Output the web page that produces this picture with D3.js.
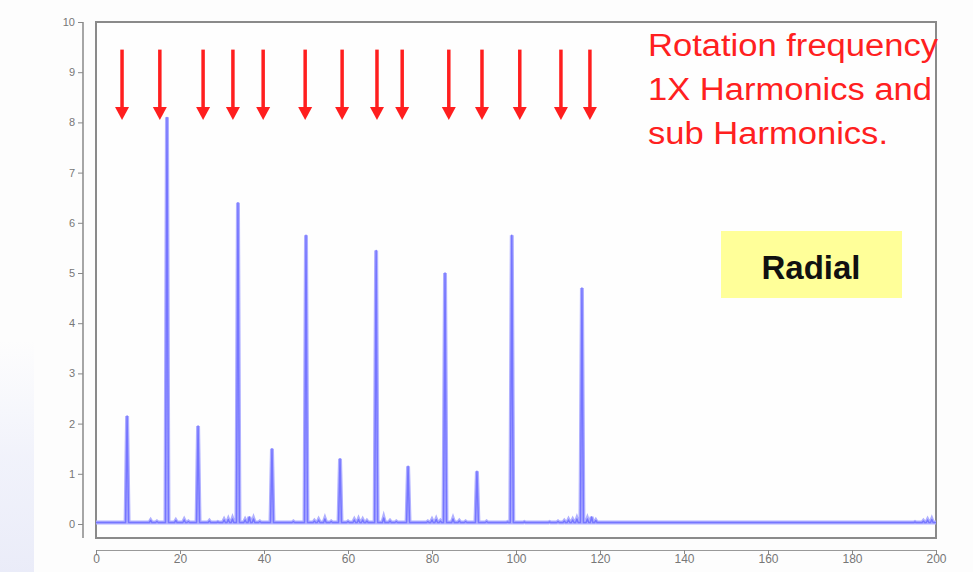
<!DOCTYPE html>
<html lang="en">
<head>
<meta charset="utf-8" />
<title>Radial spectrum</title>
<script src="https://cdn.jsdelivr.net/npm/d3@7/dist/d3.min.js"></script>
<style>
  body { margin: 0; background: #fdfdfd; }
  svg { display: block; }
</style>
</head>
<body>
<svg width="973" height="572"></svg>
<script>
// spectrum data (frequency, amplitude)
var peakFreq = [7.4, 16.9, 24.3, 33.8, 41.9, 50, 58.1, 66.7, 74.3, 83.1, 90.7, 99, 115.7];
var peakAmp = [2.15, 8.1, 1.95, 6.4, 1.5, 5.75, 1.3, 5.45, 1.15, 5.0, 1.05, 5.75, 4.7];

var noiseFreq = [13, 14.5, 19, 21, 22, 27, 29, 30.5, 31.5, 32.5, 35.5, 36.5, 37.5, 39, 47, 52, 53, 54.5, 56,
                 60, 61.5, 62.5, 63.5, 64.5, 68.5, 70, 71.5, 79, 80, 81, 82, 85, 86.5, 88, 93, 98, 102,
                 105, 108, 110, 111.5, 112.5, 113.5, 114.5, 117, 118, 119, 195, 197, 198, 199];
var noiseAmp = [0.07, 0.05, 0.07, 0.08, 0.05, 0.06, 0.04, 0.08, 0.09, 0.1, 0.08, 0.14, 0.1, 0.05, 0.05, 0.06, 0.08, 0.1, 0.05,
                0.05, 0.08, 0.09, 0.08, 0.06, 0.12, 0.06, 0.05, 0.05, 0.08, 0.09, 0.06, 0.1, 0.06, 0.05, 0.05, 0.04, 0.04,
                0.03, 0.04, 0.05, 0.06, 0.08, 0.08, 0.1, 0.1, 0.14, 0.07, 0.04, 0.06, 0.08, 0.09];

// red arrows marking rotation frequency harmonics
var arrowFreq = [6.2, 15.2, 25.5, 32.6, 39.8, 49.8, 58.6, 66.9, 72.9, 84.0, 91.9, 100.9, 110.7, 117.6];
var arrowTop = 9.45, arrowTip = 8.05;

var xTicks = [0, 20, 40, 60, 80, 100, 120, 140, 160, 180, 200];
var yTicks = [0, 1, 2, 3, 4, 5, 6, 7, 8, 9, 10];

var noteLines = ["Rotation frequency", "1X Harmonics and", "sub Harmonics."];
var noteWidths = [290, 284, 240];
var boxLabel = "Radial";

var svg = d3.select("svg");

var x = d3.scaleLinear().domain([0, 200]).range([96, 936]);
var y = d3.scaleLinear().domain([0, 10]).range([524, 22]);

// faint shading on the far left
var defs = svg.append("defs");
var grad = defs.append("linearGradient").attr("id", "fade").attr("x1", 0).attr("y1", 0).attr("x2", 0).attr("y2", 1);
grad.append("stop").attr("offset", 0).attr("stop-color", "#eef0fb").attr("stop-opacity", 0);
grad.append("stop").attr("offset", 0.5).attr("stop-color", "#eceefa").attr("stop-opacity", 0.7);
grad.append("stop").attr("offset", 1).attr("stop-color", "#e8eaf8").attr("stop-opacity", 0.9);
svg.append("rect").attr("x", 0).attr("y", 340).attr("width", 34).attr("height", 232).attr("fill", "url(#fade)");

// plot frame
svg.append("rect")
    .attr("x", x(0)).attr("y", y(10))
    .attr("width", x(200) - x(0)).attr("height", 538 - y(10))
    .attr("fill", "#fefefe")
    .attr("stroke", "#8a8a8a").attr("stroke-width", 2);

// y axis (detached, to the left)
var yAxis = svg.append("g")
    .attr("transform", "translate(83,0)")
    .call(d3.axisLeft(y).tickValues(yTicks).tickSize(5).tickSizeOuter(0));
yAxis.select(".domain").remove();
yAxis.append("line")
    .attr("x1", 0).attr("x2", 0)
    .attr("y1", y(10)).attr("y2", y(-0.28))
    .attr("stroke", "#888").attr("stroke-width", 1.5);
yAxis.selectAll(".tick line").attr("stroke", "#888");
yAxis.selectAll(".tick text")
    .attr("fill", "#777").attr("font-size", 11)
    .attr("font-family", "Liberation Sans, Arial, sans-serif");

// x axis (detached, below)
var xAxis = svg.append("g")
    .attr("transform", "translate(0,550)")
    .call(d3.axisBottom(x).tickValues(xTicks).tickSize(4).tickSizeOuter(0));
xAxis.select(".domain").attr("stroke", "#999").attr("stroke-width", 1.2);
xAxis.selectAll(".tick line").attr("stroke", "#888");
xAxis.selectAll(".tick text")
    .attr("fill", "#777").attr("font-size", 12).attr("dy", "0.5em")
    .attr("font-family", "Liberation Sans, Arial, sans-serif");

// build spectrum trace
var pts = [[0, 0.03], [200, 0.03]];
peakFreq.forEach(function (f, i) {
    pts.push([f - 0.35, 0.03], [f, peakAmp[i]], [f + 0.35, 0.03]);
});
noiseFreq.forEach(function (f, i) {
    pts.push([f - 0.3, 0.03], [f, noiseAmp[i]], [f + 0.3, 0.03]);
});
pts.sort(function (a, b) { return a[0] - b[0]; });

var line = d3.line()
    .x(function (d) { return x(d[0]); })
    .y(function (d) { return y(d[1]); });

svg.append("path")
    .datum(pts)
    .attr("fill", "none")
    .attr("stroke", "#b0b0ff")
    .attr("stroke-width", 4)
    .attr("d", line);
svg.append("path")
    .datum(pts)
    .attr("fill", "none")
    .attr("stroke", "#7676ff")
    .attr("stroke-width", 1.5)
    .attr("stroke-linejoin", "round")
    .attr("d", line);

// arrows
var arrows = svg.append("g").selectAll("g").data(arrowFreq).enter().append("g");
arrows.append("line")
    .attr("x1", function (d) { return x(d); })
    .attr("x2", function (d) { return x(d); })
    .attr("y1", y(arrowTop))
    .attr("y2", y(arrowTip) - 10)
    .attr("stroke", "#ff1e1e").attr("stroke-width", 3.5);
arrows.append("path")
    .attr("fill", "#ff1e1e")
    .attr("d", function (d) {
        var cx = x(d), ty = y(arrowTip);
        return "M" + (cx - 7) + "," + (ty - 13) + "L" + (cx + 7) + "," + (ty - 13) + "L" + cx + "," + ty + "Z";
    });

// annotation text
svg.append("g").selectAll("text").data(noteLines).enter().append("text")
    .attr("x", 648)
    .attr("y", function (d, i) { return 56 + i * 44; })
    .attr("fill", "#ff2020")
    .attr("font-family", "Liberation Sans, Arial, sans-serif")
    .attr("font-size", 31)
    .attr("textLength", function (d, i) { return noteWidths[i]; })
    .attr("lengthAdjust", "spacingAndGlyphs")
    .text(function (d) { return d; });

// label box
svg.append("rect")
    .attr("x", 721).attr("y", 231).attr("width", 181).attr("height", 67)
    .attr("fill", "#ffff99");
svg.append("text")
    .attr("x", 811).attr("y", 279)
    .attr("text-anchor", "middle")
    .attr("font-family", "Liberation Sans, Arial, sans-serif")
    .attr("font-weight", "bold")
    .attr("font-size", 33)
    .attr("fill", "#111")
    .text(boxLabel);
</script>
</body>
</html>
